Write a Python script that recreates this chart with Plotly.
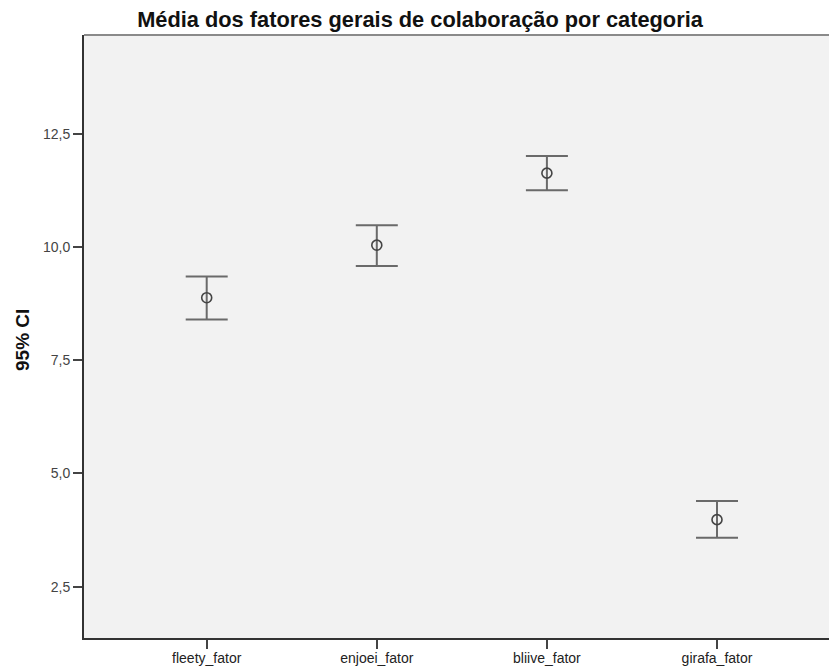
import plotly.graph_objects as go

categories = ["fleety_fator", "enjoei_fator", "bliive_fator", "girafa_fator"]
means = [8.88, 10.04, 11.63, 3.98]
ci_upper = [9.35, 10.48, 12.01, 4.39]
ci_lower = [8.40, 9.58, 11.25, 3.58]

y_tickvals = [2.5, 5.0, 7.5, 10.0, 12.5]
y_ticktext = ["2,5", "5,0", "7,5", "10,0", "12,5"]

title_text = "Média dos fatores gerais de colaboração por categoria"
y_label = "95% CI"

W, H = 829, 668
L, R, T, B = 84, 0, 35, 668 - 638

x_idx = list(range(len(categories)))
err_plus = [u - m for u, m in zip(ci_upper, means)]
err_minus = [m - l for m, l in zip(means, ci_lower)]

fig = go.Figure()
fig.add_trace(go.Scatter(
    x=x_idx, y=means, mode="markers",
    marker=dict(symbol="circle-open", size=10, color="#444444", line=dict(width=1.6, color="#444444")),
    error_y=dict(type="data", symmetric=False, array=err_plus, arrayminus=err_minus,
                 color="#6a6a6a", thickness=2, width=21),
    showlegend=False, hoverinfo="skip",
))

font_family = "Liberation Sans, Arial, sans-serif"

# x range: category 0 at x=206.7 px, 170.1 px per category, plot from x=84 to the right edge
px_per = 170.1
x0_px = 206.7
x_range = [(L - x0_px) / px_per, (W - x0_px) / px_per]

fig.update_layout(
    width=W, height=H,
    margin=dict(l=L, r=R, t=T, b=B, pad=0),
    paper_bgcolor="white",
    plot_bgcolor="#f2f2f2",
    font=dict(family=font_family, color="#333333"),
    title=dict(text="<b>" + title_text + "</b>", font=dict(size=21.8, color="#111111", family=font_family),
               xref="container", yref="container", x=420 / W, xanchor="center",
               y=1 - 19 / H, yanchor="middle"),
    xaxis=dict(
        range=x_range,
        tickmode="array", tickvals=x_idx, ticktext=categories,
        showgrid=False, zeroline=False,
        showline=True, linecolor="#333333", linewidth=2,
        ticks="outside", ticklen=9, tickwidth=2, tickcolor="#444444",
        tickfont=dict(size=14, color="#222222"),
        ticklabelstandoff=-3,
    ),
    yaxis=dict(
        range=[1.367, 14.68],
        tickmode="array", tickvals=y_tickvals, ticktext=y_ticktext,
        showgrid=False, zeroline=False,
        showline=True, linecolor="#333333", linewidth=2,
        ticks="outside", ticklen=9, tickwidth=2, tickcolor="#444444",
        tickfont=dict(size=14, color="#444444"),
    ),
    shapes=[dict(type="line", xref="paper", yref="paper", x0=0, x1=1, y0=1, y1=1,
                 line=dict(color="#8a8a8a", width=2))],
    annotations=[dict(text="<b>" + y_label + "</b>", xref="paper", yref="paper",
                      x=(22 - L) / (W - L - R), y=1 - (340 - T) / (H - T - B),
                      xanchor="center", yanchor="middle", textangle=-90, showarrow=False,
                      font=dict(size=19, color="#111111", family=font_family))],
)

fig.write_html("out.html",
               config={"displayModeBar": False},
               post_script="document.body.style.margin='0';document.body.style.overflow='hidden';")
